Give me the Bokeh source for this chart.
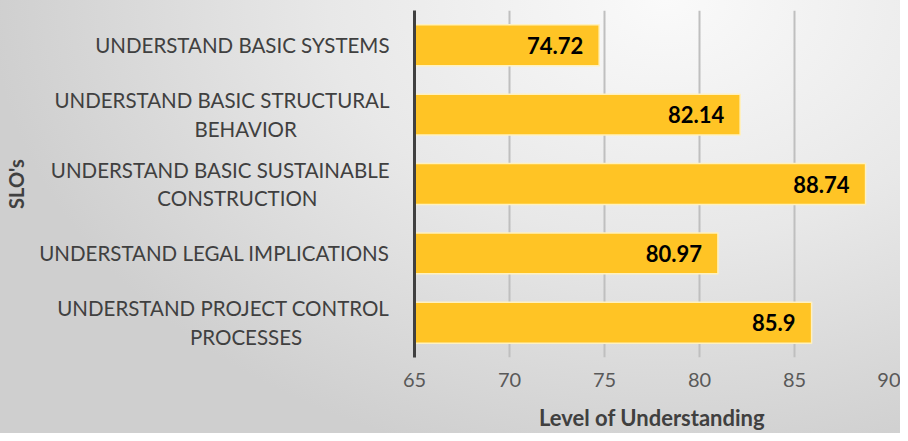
from bokeh.plotting import figure
from bokeh.models import ColumnDataSource, FactorRange, InlineStyleSheet, SingleIntervalTicker
from bokeh.core.properties import value
from bokeh.embed import file_html
from bokeh.resources import INLINE

EM = "\u2003"
NB = "\u00a0"

categories = [
    "UNDERSTAND BASIC SYSTEMS",
    "UNDERSTAND BASIC STRUCTURAL\nBEHAVIOR" + EM * 5 + NB * 3,
    "UNDERSTAND BASIC SUSTAINABLE\nCONSTRUCTION" + EM * 4 + NB * 2,
    "UNDERSTAND LEGAL IMPLICATIONS",
    "UNDERSTAND PROJECT CONTROL\nPROCESSES" + EM * 5 + NB * 2,
]
scores = [74.72, 82.14, 88.74, 80.97, 85.9]
score_labels = ["74.72", "82.14", "88.74", "80.97", "85.9"]

FONT = "Lato"

src = ColumnDataSource(dict(cat=categories, val=scores, lab=score_labels))

bg = InlineStyleSheet(css=""":host { background: radial-gradient(ellipse 75% 110% at 74% 0%, #fafafa 0%, #e8e8e8 50%, #cfcfcf 100%); }""")

p = figure(
    width=900, height=433,
    y_range=FactorRange(factors=list(reversed(categories)), range_padding=0),
    x_range=(65, 90),
    output_backend="svg", toolbar_location=None,
    min_border_left=414, min_border_right=11, min_border_top=10, min_border_bottom=70,
    stylesheets=[bg],
)
p.background_fill_alpha = 0
p.border_fill_alpha = 0
p.outline_line_color = None

p.hbar(y="cat", left=65, right="val", height=0.59, source=src,
       fill_color="#FFC425", line_color="#FFF1BF", line_width=1.5)

p.text(x="val", y="cat", text="lab", source=src, x_offset=-16,
       text_align="right", text_baseline="middle",
       text_font=value(FONT), text_font_style="bold", text_font_size="22px",
       text_color="#000000")

# x axis
p.xaxis.ticker = SingleIntervalTicker(interval=5)
p.xaxis.axis_line_color = None
p.xaxis.major_tick_line_color = None
p.xaxis.minor_tick_line_color = None
p.xaxis.major_label_text_font = FONT
p.xaxis.major_label_text_font_size = "20px"
p.xaxis.major_label_text_color = "#595959"
p.xaxis.major_label_standoff = 9
p.xaxis.axis_label = "Level of Understanding"
p.xaxis.axis_label_text_font = FONT
p.xaxis.axis_label_text_font_style = "bold"
p.xaxis.axis_label_text_font_size = "22px"
p.xaxis.axis_label_text_color = "#404040"
p.xaxis.axis_label_standoff = 14

# y axis
p.yaxis.axis_line_color = "#404040"
p.yaxis.axis_line_width = 3
p.yaxis.major_tick_line_color = None
p.yaxis.minor_tick_line_color = None
p.yaxis.major_label_text_font = FONT
p.yaxis.major_label_text_font_size = "20.5px"
p.yaxis.major_label_text_color = "#404040"
p.yaxis.major_label_standoff = 19
p.yaxis.axis_label = "SLO's"
p.yaxis.axis_label_text_font = FONT
p.yaxis.axis_label_text_font_style = "bold"
p.yaxis.axis_label_text_font_size = "20px"
p.yaxis.axis_label_text_color = "#404040"
p.yaxis.axis_label_standoff = 8

p.ygrid.grid_line_color = None
p.xgrid.grid_line_color = "#BFBFBF"
p.xgrid.grid_line_width = 2

open("out.html", "w").write(file_html(p, INLINE))
